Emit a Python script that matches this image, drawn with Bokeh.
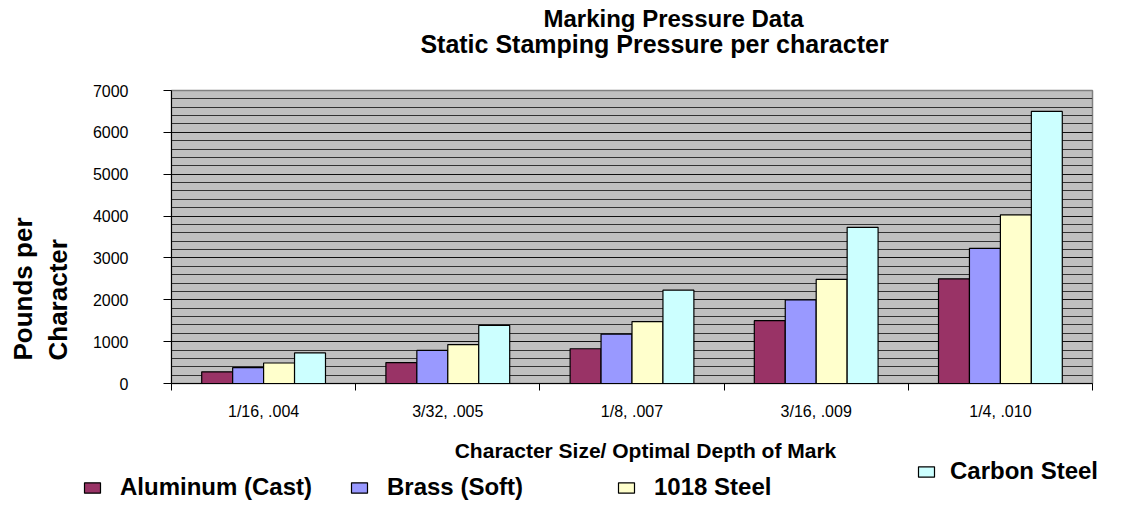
import math
from bokeh.plotting import figure
from bokeh.layouts import column, row
from bokeh.models import (Range1d, FixedTicker, Legend, LegendItem, Label,
                          ColumnDataSource)
from bokeh.embed import file_html
from bokeh.resources import INLINE

# ---- data ----
categories = ["1/16, .004", "3/32, .005", "1/8, .007", "3/16, .009", "1/4, .010"]
series_names = ["Aluminum (Cast)", "Brass (Soft)", "1018 Steel", "Carbon Steel"]
aluminum = [280, 500, 830, 1500, 2500]
brass = [380, 790, 1180, 2000, 3230]
steel_1018 = [490, 930, 1480, 2490, 4030]
carbon = [730, 1390, 2230, 3730, 6500]
y_ticks = [0, 1000, 2000, 3000, 4000, 5000, 6000, 7000]

title1 = "Marking Pressure Data"
title2 = "Static Stamping Pressure per character"
x_title = "Character Size/ Optimal Depth of Mark"
y_title = ["Pounds per", "Character"]

colors = ["#993366", "#9999FF", "#FFFFCC", "#CCFFFF"]
FONT = "Liberation Sans"

W, H = 1107, 501
FL, FR, FT, FB = 171, 1092, 90, 384   # plot area in picture px
H0 = 62                               # title strip height
H1 = 422                              # bottom of main chart (picture px)
WL = 80                               # strip holding the y title


def strip(x0, x1, y0, y1):
    """A blank figure whose data units equal picture pixels."""
    f = figure(width=x1 - x0, height=y1 - y0, output_backend="svg",
               toolbar_location=None,
               x_range=Range1d(x0, x1), y_range=Range1d(y1, y0),
               x_axis_type=None, y_axis_type=None,
               min_border_left=0, min_border_right=0,
               min_border_top=0, min_border_bottom=0)
    f.frame_align = False
    f.outline_line_color = None
    f.background_fill_color = "white"
    f.border_fill_color = "white"
    f.grid.visible = False
    return f


def text_label(fig, txt, x, y, size, align="center", angle=0.0):
    fig.add_layout(Label(x=x, y=y, text=txt, text_font=FONT,
                         text_font_size=size, text_font_style="bold",
                         text_color="black", text_align=align,
                         text_baseline="middle", angle=angle))


# ---- title strip ----
p0 = strip(0, W, 0, H0)
text_label(p0, title1, 673, 18, "24px")
text_label(p0, title2, 654, 43, "25px")

# ---- y-title strip ----
pL = strip(0, WL, H0, H1)
text_label(pL, y_title[0], 22, 360, "26px", align="left", angle=math.pi / 2)
text_label(pL, y_title[1], 57, 360, "26px", align="left", angle=math.pi / 2)

# ---- main chart ----
p = figure(width=W - WL, height=H1 - H0, output_backend="svg",
           toolbar_location=None,
           x_range=Range1d(0, len(categories)), y_range=Range1d(0, 7000),
           min_border_left=FL - WL, min_border_right=W - FR,
           min_border_top=FT - H0, min_border_bottom=H1 - FB)
p.frame_align = False
p.background_fill_color = "#C0C0C0"
p.border_fill_color = "white"
p.outline_line_color = "#808080"
p.outline_line_width = 1.5

n = len(categories)
bw = 0.168
all_series = [aluminum, brass, steel_1018, carbon]
sources = []
for j, (vals, col) in enumerate(zip(all_series, colors)):
    xs = [i + 0.5 + (j - 1.5) * bw for i in range(n)]
    src = ColumnDataSource(dict(x=xs, top=vals))
    sources.append(src)
    p.vbar(x="x", top="top", width=bw, bottom=0, source=src,
           fill_color=col, line_color="black", line_width=1.2)

# y axis
p.yaxis.ticker = FixedTicker(ticks=y_ticks)
p.yaxis.major_label_text_font = FONT
p.yaxis.major_label_text_font_size = "16px"
p.yaxis.major_label_text_color = "black"
p.yaxis.major_tick_out = 8
p.yaxis.major_tick_in = 0
p.yaxis.minor_tick_out = 0
p.yaxis.minor_tick_in = 0
p.yaxis.major_label_standoff = 35
p.yaxis.axis_line_color = "black"
p.yaxis.major_tick_line_color = "black"

# x axis: labels at centres, tick marks at category boundaries
p.xaxis.ticker = FixedTicker(ticks=[i + 0.5 for i in range(n)],
                             minor_ticks=list(range(n + 1)))
p.xaxis.major_label_overrides = {i + 0.5: c for i, c in enumerate(categories)}
p.xaxis.major_tick_out = 0
p.xaxis.major_tick_in = 0
p.xaxis.minor_tick_out = 7
p.xaxis.minor_tick_in = 0
p.xaxis.minor_tick_line_color = "black"
p.xaxis.major_label_standoff = 12
p.xaxis.major_label_text_font = FONT
p.xaxis.major_label_text_font_size = "16px"
p.xaxis.major_label_text_color = "black"
p.xaxis.axis_line_color = "black"

# grid
p.xgrid.visible = False
p.ygrid.ticker = FixedTicker(ticks=y_ticks, minor_ticks=list(range(0, 7001, 200)))
p.ygrid.grid_line_color = "#111111"
p.ygrid.grid_line_width = 1.2
p.ygrid.minor_grid_line_color = "#333333"
p.ygrid.minor_grid_line_width = 1.2

# ---- bottom strip: x title and legend ----
p2 = strip(0, W, H1, H)
text_label(p2, x_title, 645, 450, "21px")

leg_r = []
for src, col in zip(sources, colors):
    r = p2.vbar(x="x", top="top", width=bw, bottom=0, source=src,
                fill_color=col, line_color="black", line_width=1.2)
    r.visible = False          # legend swatch only
    leg_r.append(r)

common = dict(orientation="horizontal", padding=0, margin=0,
              border_line_color=None, background_fill_alpha=0,
              glyph_width=20, glyph_height=13,
              label_text_font=FONT, label_text_font_size="24px",
              label_text_font_style="bold", label_text_color="black",
              label_text_baseline="middle")
lg_c = Legend(items=[LegendItem(label=series_names[3], renderers=[leg_r[3]])],
              location=(916, 16), label_standoff=14, **common)
p2.add_layout(lg_c, "center")
lg_a = Legend(items=[LegendItem(label=nm, renderers=[r])
                     for nm, r in zip(series_names[:3], leg_r[:3])],
              location=(82, 0), spacing=24, label_width=205,
              label_standoff=18, **common)
p2.add_layout(lg_a, "center")

layout = column(p0, row(pL, p, spacing=0), p2, spacing=0)
open("out.html", "w").write(file_html(layout, INLINE))
